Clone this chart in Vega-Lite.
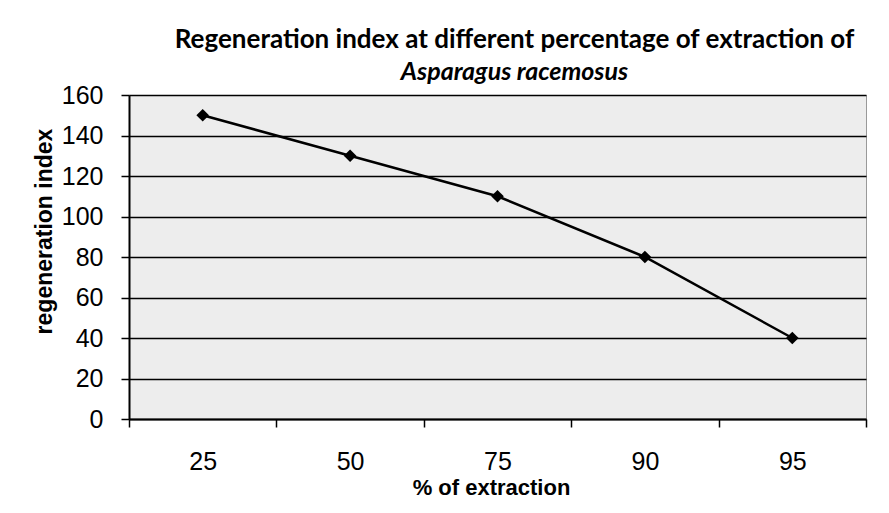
{
  "$schema": "https://vega.github.io/schema/vega-lite/v6.json",
  "autosize": "none",
  "width": 737,
  "height": 324,
  "padding": {"left": 129, "top": 95, "right": 23, "bottom": 94},
  "background": "white",
  "title": {
    "text": "Regeneration index at different percentage of extraction of",
    "subtitle": "Asparagus racemosus",
    "font": "Lato",
    "fontSize": 26,
    "fontWeight": "bold",
    "subtitleFont": "Lato",
    "subtitleFontSize": 25,
    "subtitleFontWeight": "bold",
    "subtitleFontStyle": "italic",
    "subtitlePadding": 7,
    "color": "black",
    "subtitleColor": "black",
    "anchor": "middle",
    "dx": 17,
    "offset": -2
  },
  "data": {
    "values": [
      {"extraction": "25", "index": 150},
      {"extraction": "50", "index": 130},
      {"extraction": "75", "index": 110},
      {"extraction": "90", "index": 80},
      {"extraction": "95", "index": 40}
    ]
  },
  "layer": [
    {
      "mark": {"type": "line", "color": "black", "strokeWidth": 2.5},
      "encoding": {
        "x": {"field": "extraction", "type": "ordinal", "sort": null},
        "y": {"field": "index", "type": "quantitative"}
      }
    },
    {
      "mark": {"type": "point", "shape": "diamond", "filled": true, "color": "black", "size": 160, "opacity": 1},
      "encoding": {
        "x": {"field": "extraction", "type": "ordinal", "sort": null},
        "y": {"field": "index", "type": "quantitative"}
      }
    }
  ],
  "encoding": {
    "x": {
      "field": "extraction",
      "type": "ordinal",
      "sort": null,
      "scale": {"paddingInner": 0, "paddingOuter": 0},
      "axis": {
        "title": "% of extraction",
        "titleFont": "Liberation Sans",
        "titleFontSize": 22,
        "titleFontWeight": "bold",
        "titleColor": "black",
        "titleX": 362,
        "titleY": 68,
        "titleBaseline": "middle",
        "labelFont": "Liberation Sans",
        "labelFontSize": 25,
        "labelColor": "black",
        "labelAngle": 0,
        "labelPadding": 22,
        "tickBand": "extent",
        "tickSize": 8,
        "tickColor": "black",
        "tickWidth": 1.5,
        "domainColor": "black",
        "domainWidth": 2,
        "grid": false
      }
    },
    "y": {
      "field": "index",
      "type": "quantitative",
      "scale": {"domain": [0, 160], "nice": false},
      "axis": {
        "title": "regeneration index",
        "titleFont": "Liberation Sans",
        "titleFontSize": 23,
        "titleFontWeight": "bold",
        "titleColor": "black",
        "titleX": -85,
        "titleY": 136,
        "titleAngle": -90,
        "titleAlign": "center",
        "titleBaseline": "middle",
        "labelFont": "Liberation Sans",
        "labelFontSize": 25,
        "labelColor": "black",
        "labelPadding": 18,
        "values": [0, 20, 40, 60, 80, 100, 120, 140, 160],
        "tickSize": 8,
        "tickColor": "black",
        "tickWidth": 1.5,
        "domainColor": "black",
        "domainWidth": 2,
        "grid": true,
        "gridColor": "black",
        "gridWidth": 1.5,
        "gridOpacity": 1
      }
    }
  },
  "config": {
    "view": {"fill": "#ededed", "stroke": "#999999", "strokeWidth": 1}
  }
}
